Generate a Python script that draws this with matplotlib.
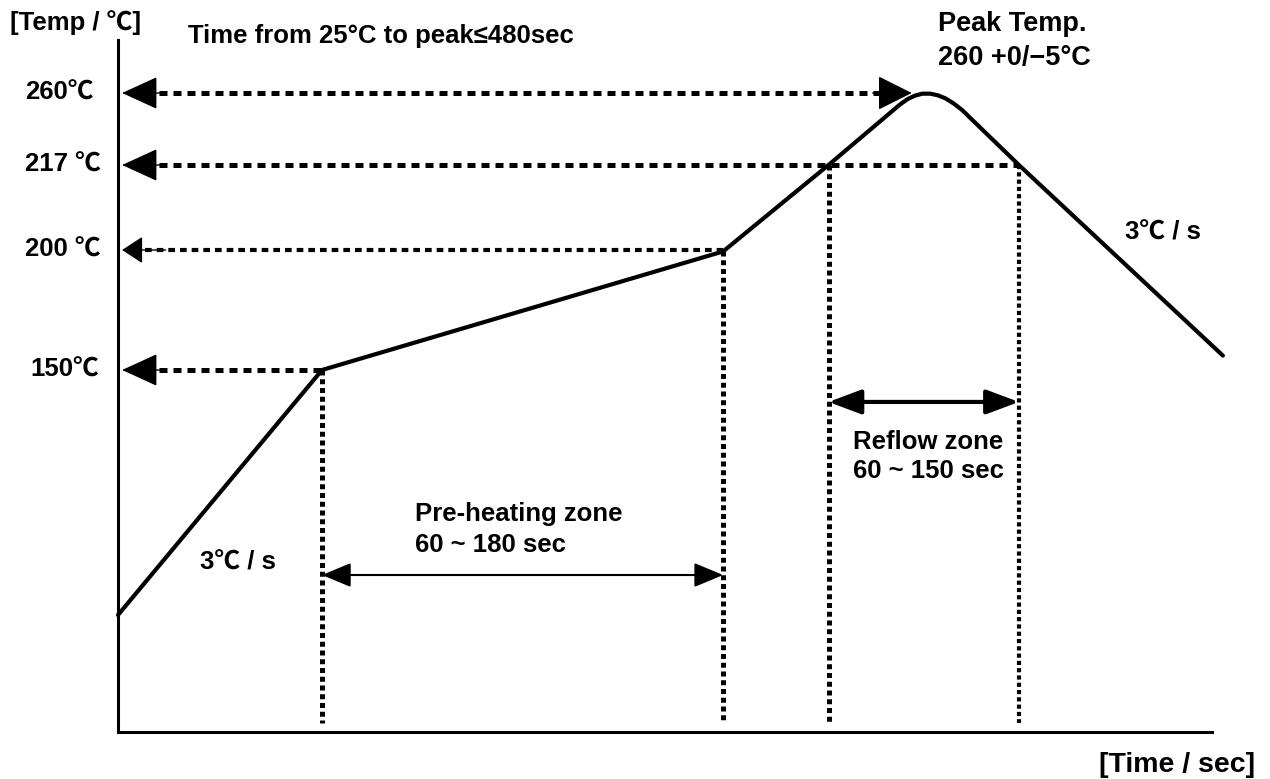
import matplotlib
matplotlib.use('Agg')
import matplotlib.pyplot as plt
import numpy as np
from matplotlib.transforms import blended_transform_factory

plt.rcParams['font.family'] = ['Liberation Sans', 'Noto Sans CJK KR', 'DejaVu Sans']
plt.rcParams['font.weight'] = 'bold'

# reflow profile (schematic), time in sec, temperature in degC
time = [0, 60, 178, 209, 230.0, 232.2, 234.4, 236.6, 238.9, 241.2, 243.5,
        245.9, 248.2, 265, 325]
temp = [25, 150, 199.4, 217, 253.1, 256.3, 258.4, 259.6, 259.6, 258.6, 256.7,
        253.6, 250.0, 217, 156]

# marked temperatures and where their dotted guides end
level_temps = [260, 217, 200, 150]
level_labels = ['260℃', '217 ℃', '200 ℃', '150℃']
level_ends = [224, 265, 178, 60]

# vertical guides (time, temp at top)
vline_t = [60, 178, 209, 265]
vline_top = [150, 199.4, 217, 217]

preheat = (60, 178)
reflow = (209, 265)

# schematic (non linear) temperature axis
scale_T = [0, 25, 150, 200, 217, 260, 300]
scale_h = [0, 117, 362, 482, 567, 639, 692]


def fwd(T):
    return np.interp(T, scale_T, scale_h)


def inv(h):
    return np.interp(h, scale_h, scale_T)


fig = plt.figure(figsize=(12.7, 7.79), dpi=100)
ax = fig.add_axes([118 / 1270, 47 / 779, 1094 / 1270, 692 / 779])
ax.set_yscale('function', functions=(fwd, inv))
ax.set_xlim(0, 321.8)
ax.set_ylim(0, 300)
ax.spines['top'].set_visible(False)
ax.spines['right'].set_visible(False)
ax.spines['left'].set_linewidth(2.2)
ax.spines['bottom'].set_linewidth(2.2)
ax.set_xticks([])
ax.set_yticks([])

ax.plot(time, temp, color='black', lw=3.0, solid_joinstyle='round',
        solid_capstyle='round', clip_on=False, zorder=5)

dot_h = (0, (1.6, 1.2))

for T, x_end in zip(level_temps, level_ends):
    lw = 3.0 if T == 200 else 3.6
    ax.plot([8, x_end], [T, T], color='black', lw=lw, linestyle=dot_h,
            dash_capstyle='butt')

# left pointing heads at the axis
for T in level_temps:
    if T == 200:
        style = '-|>,head_length=1.3,head_width=0.85'
    else:
        style = '-|>,head_length=2.3,head_width=1.05'
    ax.annotate('', xy=(1.2, T), xytext=(14, T),
                arrowprops=dict(arrowstyle=style, color='black', lw=1,
                                shrinkA=0, shrinkB=0, mutation_scale=10))

# peak arrow
ax.annotate('', xy=(233.5, 260), xytext=(222, 260),
            arrowprops=dict(arrowstyle='-|>,head_length=2.2,head_width=1.1',
                            color='black', lw=1, shrinkA=0, shrinkB=0,
                            mutation_scale=10))

for t, top in zip(vline_t, vline_top):
    lw = 3.0 if t == 265 else 3.6
    ax.plot([t, t], [top, 2], color='black', lw=lw, linestyle=(0, (1.0, 0.75)),
            dash_capstyle='butt')

ax.annotate('', xy=(preheat[1], 45.4), xytext=(preheat[0], 45.4),
            arrowprops=dict(arrowstyle='<|-|>,head_length=1.8,head_width=0.75',
                            color='black', lw=1.5, shrinkA=0, shrinkB=0,
                            mutation_scale=10))
ax.annotate('', xy=(reflow[1], 133.7), xytext=(reflow[0], 133.7),
            arrowprops=dict(arrowstyle='<|-|>,head_length=2.0,head_width=0.75',
                            color='black', lw=3.0, shrinkA=0, shrinkB=0,
                            mutation_scale=10))

# level labels
tr = blended_transform_factory(fig.transFigure, ax.transData)
for T, lab in zip(level_temps, level_labels):
    x0 = 30 if T == 150 else 25
    ax.text(x0 / 1270, T, lab, transform=tr, ha='left', va='center',
            fontsize=18.5, fontweight='bold')


def ftext(x, y, s, size=18.5, **kw):
    fig.text(x / 1270, 1 - y / 779, s, fontsize=size, fontweight='bold', **kw)


ftext(10, 23, '[Temp / ℃]', ha='left', va='center')
ftext(188, 36, 'Time from 25°C to peak≤480sec', ha='left', va='center')
ftext(938, 24, 'Peak Temp.', size=19.5, ha='left', va='center')
ftext(938, 58, '260 +0/−5°C', size=19.5, ha='left', va='center')
ftext(1125, 233, '3℃ / s', ha='left', va='center')
ftext(200, 562, '3℃ / s', ha='left', va='center')
ftext(415, 514, 'Pre-heating zone', ha='left', va='center')
ftext(415, 545, '60 ~ 180 sec', ha='left', va='center')
ftext(853, 442, 'Reflow zone', ha='left', va='center')
ftext(853, 471, '60 ~ 150 sec', ha='left', va='center')
ftext(1255, 765, '[Time / sec]', size=20.5, ha='right', va='center')

fig.savefig('out.png', dpi=100)
